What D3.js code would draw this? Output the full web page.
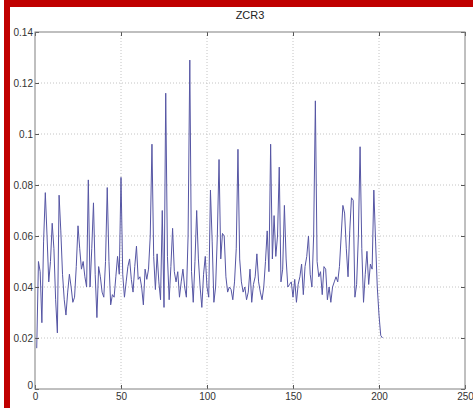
<!DOCTYPE html>
<html>
<head>
<meta charset="utf-8">
<script src="https://cdn.jsdelivr.net/npm/d3@7/dist/d3.min.js"></script>
<style>
  body { margin: 0; background: #fff; }
  svg { display: block; font-family: "Liberation Sans", Arial, sans-serif; }
  .tick text { fill: #333; font-size: 10px; }
  .grid line { stroke: #c4c4c4; stroke-dasharray: 1,2; }
  .line { fill: none; stroke: #5656a4; stroke-width: 1; }
</style>
</head>
<body>
<script>
// ZCR3 values, sample 1..202
var zcr = [
  0.016, 0.050, 0.046, 0.026, 0.058, 0.077, 0.060, 0.042, 0.050, 0.065,
  0.055, 0.035, 0.022, 0.076, 0.062, 0.045, 0.035, 0.029, 0.038, 0.045,
  0.040, 0.034, 0.036, 0.048, 0.064, 0.055, 0.047, 0.050, 0.044, 0.040,
  0.082, 0.040, 0.055, 0.073, 0.045, 0.028, 0.048, 0.044, 0.038, 0.036,
  0.050, 0.079, 0.050, 0.033, 0.037, 0.036, 0.044, 0.052, 0.045, 0.083,
  0.045, 0.036, 0.042, 0.048, 0.051, 0.043, 0.038, 0.048, 0.056, 0.043,
  0.044, 0.040, 0.033, 0.047, 0.043, 0.047, 0.060, 0.096, 0.052, 0.039,
  0.053, 0.042, 0.035, 0.070, 0.032, 0.116, 0.052, 0.035, 0.048, 0.063,
  0.046, 0.042, 0.046, 0.036, 0.042, 0.047, 0.040, 0.036, 0.060, 0.129,
  0.046, 0.034, 0.050, 0.070, 0.051, 0.040, 0.032, 0.045, 0.052, 0.040,
  0.036, 0.078, 0.058, 0.034, 0.040, 0.060, 0.090, 0.051, 0.061, 0.060,
  0.044, 0.038, 0.040, 0.039, 0.035, 0.042, 0.055, 0.094, 0.051, 0.042,
  0.038, 0.040, 0.035, 0.038, 0.047, 0.034, 0.041, 0.044, 0.053, 0.042,
  0.038, 0.035, 0.040, 0.050, 0.062, 0.046, 0.096, 0.051, 0.068, 0.052,
  0.060, 0.087, 0.042, 0.047, 0.072, 0.051, 0.040, 0.041, 0.042, 0.036,
  0.043, 0.034, 0.041, 0.044, 0.049, 0.037, 0.048, 0.052, 0.060, 0.045,
  0.040, 0.060, 0.113, 0.050, 0.044, 0.046, 0.037, 0.048, 0.047, 0.035,
  0.040, 0.034, 0.040, 0.042, 0.044, 0.042, 0.048, 0.060, 0.072, 0.069,
  0.055, 0.044, 0.062, 0.075, 0.074, 0.036, 0.041, 0.060, 0.095, 0.055,
  0.034, 0.045, 0.054, 0.041, 0.049, 0.047, 0.078, 0.058, 0.040, 0.029,
  0.021, 0.020
];
var xTicks = [0, 50, 100, 150, 200, 250];
var yTicks = [0, 0.02, 0.04, 0.06, 0.08, 0.1, 0.12, 0.14];
var yLabels = ["0", "0.02", "0.04", "0.06", "0.08", "0.1", "0.12", "0.14"];
var title = "ZCR3";

function draw() {
    var w = 473, h = 412;
    var mLeft = 35, mRight = 465, mTop = 32, mBottom = 389;

    var svg = d3.select("body").append("svg")
        .attr("width", w)
        .attr("height", h);

    // red frame
    svg.append("rect").attr("x", 6).attr("y", 0).attr("width", w - 6).attr("height", 7).attr("fill", "#c00000");
    svg.append("rect").attr("x", 4).attr("y", 0).attr("width", 6).attr("height", 408).attr("fill", "#c00000");

    var xScale = d3.scaleLinear().domain([0, 250]).range([mLeft, mRight]);
    var yScale = d3.scaleLinear().domain([0, 0.14]).range([mBottom, mTop]);

    // grid
    svg.append("g").attr("class", "grid")
        .selectAll("line").data(xTicks.slice(1, -1)).enter().append("line")
        .attr("x1", function(d) { return xScale(d); })
        .attr("x2", function(d) { return xScale(d); })
        .attr("y1", mTop).attr("y2", mBottom);
    svg.append("g").attr("class", "grid")
        .selectAll("line").data(yTicks.slice(1, -1)).enter().append("line")
        .attr("x1", mLeft).attr("x2", mRight)
        .attr("y1", function(d) { return yScale(d); })
        .attr("y2", function(d) { return yScale(d); });

    // data line
    var line = d3.line()
        .x(function(d, i) { return xScale(i + 1); })
        .y(function(d) { return yScale(d); });
    svg.append("path").datum(zcr).attr("class", "line").attr("d", line);

    // axes with inward ticks
    function style(g) {
        g.select(".domain").remove();
        g.selectAll(".tick line").attr("stroke", "#555");
    }
    svg.append("g")
        .attr("transform", "translate(0," + mBottom + ")")
        .call(d3.axisBottom(xScale).tickValues(xTicks).tickSizeInner(-4).tickSizeOuter(0).tickPadding(4))
        .call(style);
    svg.append("g")
        .attr("transform", "translate(0," + mTop + ")")
        .call(d3.axisTop(xScale).tickValues(xTicks).tickSizeInner(-4).tickSizeOuter(0).tickFormat(""))
        .call(style);
    var yAxis = svg.append("g")
        .attr("transform", "translate(" + mLeft + ",0)")
        .call(d3.axisLeft(yScale).tickValues(yTicks).tickSizeInner(-4).tickSizeOuter(0).tickPadding(2)
            .tickFormat(function(d, i) { return yLabels[i]; }))
        .call(style);
    // the zero label sits a little above the axis, as in the original
    yAxis.selectAll(".tick text").filter(function(d) { return d === 0; }).attr("dy", "-0.1em");
    svg.append("g")
        .attr("transform", "translate(" + mRight + ",0)")
        .call(d3.axisRight(yScale).tickValues(yTicks).tickSizeInner(-4).tickSizeOuter(0).tickFormat(""))
        .call(style);

    // box
    svg.append("rect")
        .attr("x", mLeft).attr("y", mTop)
        .attr("width", mRight - mLeft).attr("height", mBottom - mTop)
        .attr("fill", "none").attr("stroke", "#808080").attr("stroke-width", 1);

    svg.append("text")
        .attr("x", (mLeft + mRight) / 2).attr("y", 19)
        .attr("text-anchor", "middle")
        .attr("font-size", 11).attr("fill", "#222")
        .text(title);
}

window.onload = draw;
</script>
</body>
</html>
